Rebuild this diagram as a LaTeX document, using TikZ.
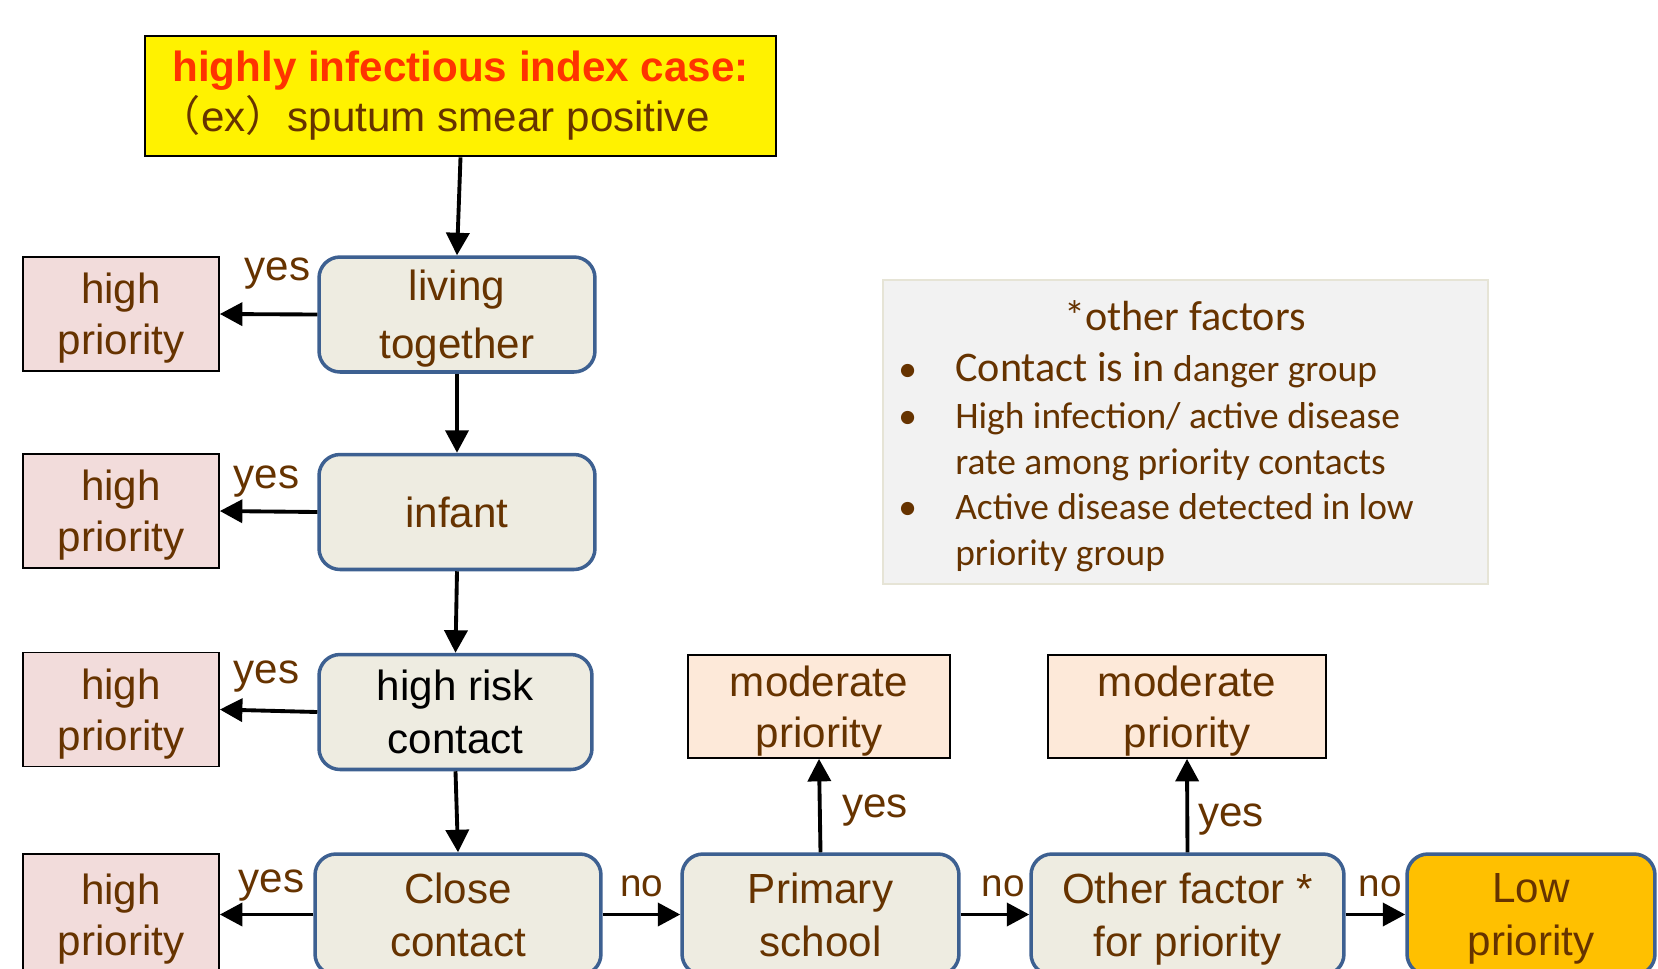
\documentclass[tikz,border=0pt]{standalone}
\usepackage{fontspec}
\setmainfont{Liberation Sans}
\newfontfamily\cjk{Noto Sans CJK SC}
\newfontfamily\calib{Carlito}
\usetikzlibrary{arrows.meta}
\definecolor{txtbrown}{RGB}{102,51,0}
\definecolor{titlered}{RGB}{255,51,0}
\definecolor{askfill}{RGB}{238,236,225}
\definecolor{askborder}{RGB}{61,96,145}
\definecolor{highfill}{RGB}{242,220,219}
\definecolor{modfill}{RGB}{253,233,217}
\definecolor{lowfill}{RGB}{255,192,0}
\definecolor{factfill}{RGB}{242,242,242}
\definecolor{factborder}{RGB}{230,228,214}

\begin{document}
\begin{tikzpicture}[x=0.02cm, y=-0.02cm,
>={Triangle[length=0.45cm,width=0.46cm]},
% common options for the question boxes:
ask/.style = {draw=askborder, line width=2pt, fill=askfill, rounded corners=0.42cm,
            align=center, text=txtbrown, font=\fontsize{24}{30}\selectfont,
            minimum height=2.3cm, inner sep=0, text depth=0pt},
% common options for the answer boxes:
result/.style = {draw=black, line width=1pt, align=center, text=txtbrown,
            font=\fontsize{24}{29}\selectfont, inner sep=0, text depth=0pt},
high/.style = {result, fill=highfill, minimum width=3.92cm, minimum height=2.28cm},
moderate/.style = {result, fill=modfill, minimum height=2.06cm},
% arrows and their labels:
link/.style = {->, line width=2.2pt},
lab/.style = {text=txtbrown, font=\fontsize{24}{29}\selectfont, inner sep=0},
nolab/.style = {lab, font=\fontsize{22}{26}\selectfont}]
\useasboundingbox (0,0) rectangle (1658,968);
\clip (0,0) rectangle (1658,968);
\node[draw=black, line width=1.5pt, fill=yellow, align=center, text=txtbrown,
      font=\fontsize{24}{28.5}\selectfont, minimum width=12.62cm, minimum height=2.4cm,
      inner sep=0] (T) at (460.5,96)
      {{\bfseries\color{titlered}highly infectious index case:}\\{\cjk（}ex{\cjk）}sputum smear positive\hspace*{1.05cm}};
\node[ask, minimum width=5.52cm, font=\fontsize{24}{33}\selectfont] (A1) at (457,314.5) {living\\together};
\node[ask, minimum width=5.52cm] (A2) at (457,512) {infant};
\node[ask, minimum width=5.46cm, text=black] (A3) at (455.5,712) {high risk\\contact};
\node[ask, minimum width=5.72cm, minimum height=2.42cm] (A4) at (458,914.5) {Close\\contact};
\node[ask, minimum width=5.54cm, minimum height=2.42cm] (B1) at (820.5,914.5) {Primary\\school};
\node[ask, minimum width=6.26cm, minimum height=2.42cm] (B2) at (1187.5,914.5) {Other factor *\\for priority};
\node[ask, fill=lowfill, minimum width=4.96cm, minimum height=2.42cm] (B3) at (1531,914.5) {Low\\priority};
\node[high] (H1) at (121,314) {high\\priority};
\node[high] (H2) at (121,511) {high\\priority};
\node[high] (H3) at (121,709.5) {high\\priority};
\node[high, minimum height=2.42cm] (H4) at (121,914.5) {high\\priority};
\node[moderate, minimum width=5.24cm] (M1) at (819,706.5) {moderate\\priority};
\node[moderate, minimum width=5.56cm] (M2) at (1187,706.5) {moderate\\priority};
% box with the other factors
\node[draw=factborder, line width=1.5pt, fill=factfill, minimum width=12.1cm,
      minimum height=6.08cm] (F) at (1185.5,432) {};
\node[anchor=base, inner sep=0, text=txtbrown, font=\calib\fontsize{24}{29}\selectfont] (F0) at (1185,330) {*other factors};
\node[anchor=base west, inner sep=0, text=txtbrown, font=\calib\fontsize{21.3}{26}\selectfont] (F1) at (898,381)
      {\begin{tabular}[t]{@{}p{1.14cm}@{}l@{}}
       •&{\fontsize{24}{29}\selectfont Contact is in} danger group\\[1pt]
       •&High infection/ active disease\\
        &rate among priority contacts\\
       •&Active disease detected in low\\
        &priority group
       \end{tabular}};
% labels
\node[lab] (Y1) at (277.5,274) {yes};
\node[lab] (Y2) at (266.7,482) {yes};
\node[lab] (Y3) at (266.7,677) {yes};
\node[lab] (Y4) at (271.7,885.5) {yes};
\node[lab] (Y5) at (875,811) {yes};
\node[lab] (Y6) at (1231,819.5) {yes};
\node[nolab] (N1) at (641.7,886) {no};
\node[nolab] (N2) at (1003,886) {no};
\node[nolab] (N3) at (1380,886) {no};
% arrows
\draw[link] (T.south) to (A1.north);
\draw[link] (A1.south) to (A2.north);
\draw[link] (A2.south) to (A3.north);
\draw[link] (A3.south) to (A4.north);
\draw[link] (A1.west) to (H1.east);
\draw[link] (A2.west) to (H2.east);
\draw[link] (A3.west) to (H3.east);
\draw[link] (A4.west) to (H4.east);
\draw[link] (A4.east) to (B1.west);
\draw[link] (B1.east) to (B2.west);
\draw[link] (B2.east) to (B3.west);
\draw[link] (B1.north) to (M1.south);
\draw[link] (B2.north) to (M2.south);
\end{tikzpicture}
\end{document}
